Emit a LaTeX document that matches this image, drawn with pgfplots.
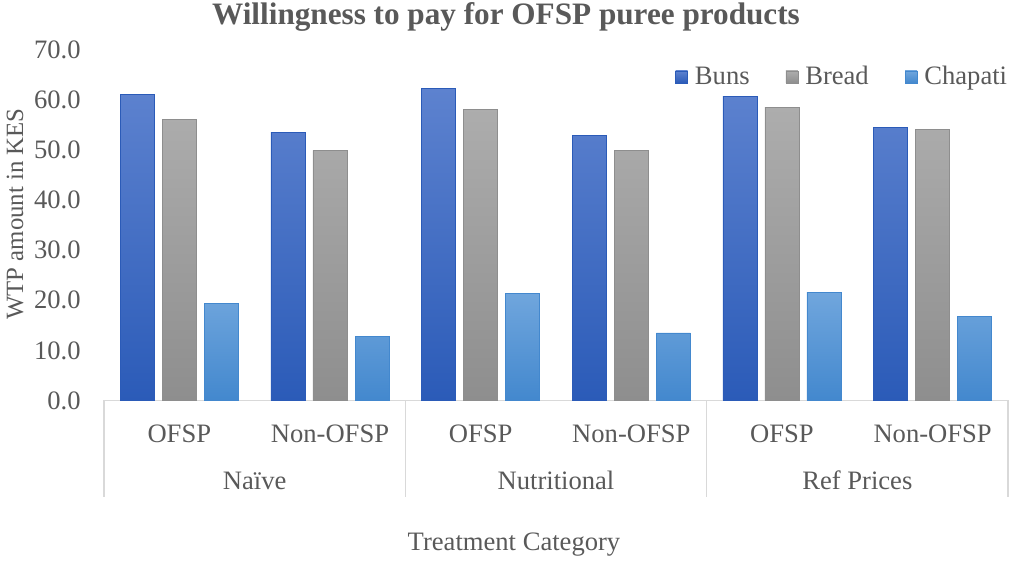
\documentclass[border=0pt]{standalone}
\usepackage{pgfplots}
\pgfplotsset{compat=1.18}
\usepackage{fontspec}
\setmainfont{Liberation Serif}
\definecolor{txt}{HTML}{595959}
\definecolor{sep}{HTML}{D9D9D9}
\definecolor{bunsT}{HTML}{5D82CF}
\definecolor{bunsB}{HTML}{2B5BB8}
\definecolor{breadT}{HTML}{ADADAD}
\definecolor{breadB}{HTML}{8E8E8E}
\definecolor{chapT}{HTML}{70A6DD}
\definecolor{chapB}{HTML}{4388CE}
\newcommand{\lbl}{\fontsize{13.3}{16}\selectfont}
\pgfplotstableread{
x buns bread chapati
0 61.1 56.1 19.4
1 53.5 49.9 12.8
2 62.3 58.1 21.4
3 52.8 49.9 13.5
4 60.7 58.5 21.6
5 54.5 54.0 16.8
}\wtp
\begin{document}
\begin{tikzpicture}
\useasboundingbox (0,0) rectangle (506.5pt,280.5pt);
\begin{axis}[
  at={(52pt,80.25pt)}, anchor=south west,
  scale only axis, width=452pt, height=175.5pt,
  ybar=4pt, bar width=17pt,
  xmin=-0.5, xmax=5.5, ymin=0, ymax=70,
  axis x line*=bottom, axis y line*=left,
  x axis line style={draw=sep, line width=0.6pt},
  y axis line style={draw=none},
  major tick length=0pt,
  tick style={draw=sep},
  xtick={0,1,2,3,4,5},
  xticklabels={OFSP,Non-OFSP,OFSP,Non-OFSP,OFSP,Non-OFSP},
  extra x ticks={-0.5,1.5,3.5,5.5},
  extra x tick labels={},
  extra x tick style={major tick length=48pt, tick align=outside,
     major tick style={draw=sep, line width=0.6pt}},
  ytick={0,10,...,70},
  /pgf/number format/assume math mode=true,
  yticklabel style={/pgf/number format/fixed, /pgf/number format/fixed zerofill, /pgf/number format/precision=1},
  yticklabel style={anchor=east, inner sep=0pt, xshift=-11.5pt},
  xticklabel style={anchor=base, inner sep=0pt, yshift=-21.25pt},
  tick label style={font=\lbl, text=txt},
  legend style={at={(0.6316,0.9217)}, anchor=west, draw=none, fill=none, inner sep=0pt,
     legend columns=3, font=\lbl, text=txt,
     /tikz/every odd column/.append style={column sep=1.5pt},
     /tikz/every even column/.append style={column sep=16pt}},
  legend cell align=left,
  clip=false,
]
\addplot[draw=bunsB, line width=0.3pt, top color=bunsT, bottom color=bunsB,
  legend image code/.code={\draw[draw=bunsB, line width=0.3pt, top color=bunsT, bottom color=bunsB] (0pt,-3pt) rectangle (6pt,3pt);}]
  table[x=x,y=buns]{\wtp};
\addplot[draw=breadB, line width=0.3pt, top color=breadT, bottom color=breadB,
  legend image code/.code={\draw[draw=breadB, line width=0.3pt, top color=breadT, bottom color=breadB] (0pt,-3pt) rectangle (6pt,3pt);}]
  table[x=x,y=bread]{\wtp};
\addplot[draw=chapB, line width=0.3pt, top color=chapT, bottom color=chapB,
  legend image code/.code={\draw[draw=chapB, line width=0.3pt, top color=chapT, bottom color=chapB] (0pt,-3pt) rectangle (6pt,3pt);}]
  table[x=x,y=chapati]{\wtp};
\legend{Buns,Bread,Chapati}
\node[anchor=base, text=txt, font=\lbl, yshift=-44.75pt] at (axis cs:0.5,0) {Naïve};
\node[anchor=base, text=txt, font=\lbl, yshift=-44.75pt] at (axis cs:2.5,0) {Nutritional};
\node[anchor=base, text=txt, font=\lbl, yshift=-44.75pt] at (axis cs:4.5,0) {Ref Prices};
\end{axis}
\node[anchor=base, text=txt, font=\fontsize{15.6}{18}\selectfont\bfseries] at (253pt,268pt) {Willingness to pay for OFSP puree products};
\node[rotate=90, text=txt, font=\fontsize{12.4}{15}\selectfont] at (7.5pt,173.5pt) {WTP amount in KES};
\node[text=txt, font=\lbl] at (257pt,8pt) {Treatment Category};
\end{tikzpicture}
\end{document}
